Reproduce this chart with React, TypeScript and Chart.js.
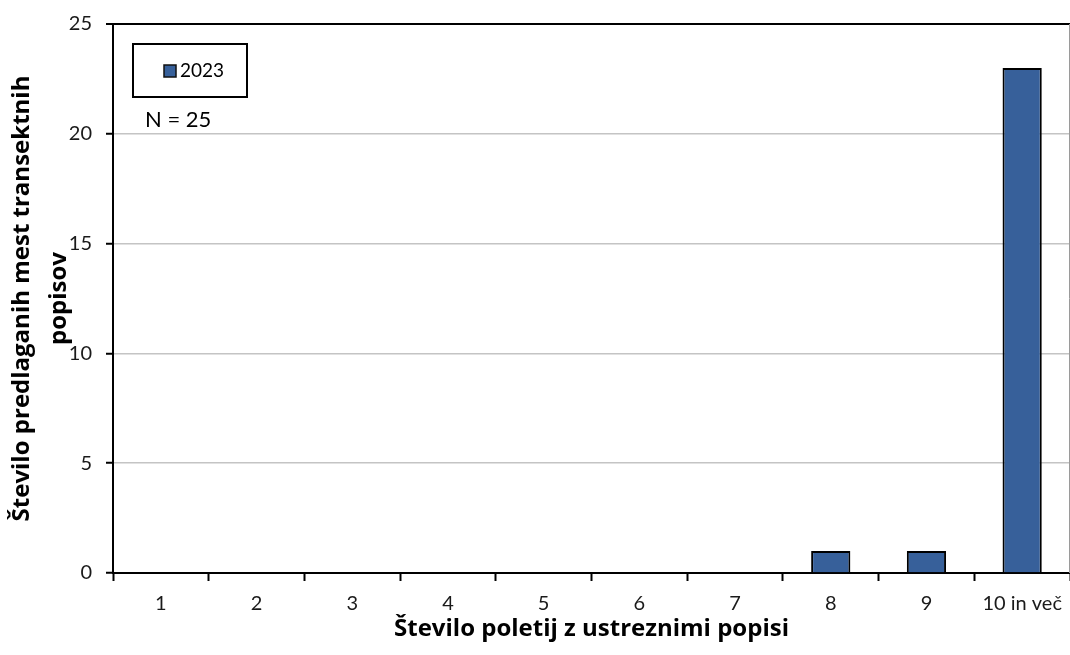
import React, { useEffect, useRef } from "react";
import { Chart, registerables } from "chart.js";

Chart.register(...registerables);

// Categories: number of seasons with suitable surveys
const categories = ["1", "2", "3", "4", "5", "6", "7", "8", "9", "10 in več"];
// Number of proposed transect survey sites per category (2023)
const sites2023 = [0, 0, 0, 0, 0, 0, 0, 1, 1, 23];
const seriesLabel = "2023";
const sampleSize = 25;
const yTicks = [0, 5, 10, 15, 20, 25];

const FONT = "Lato, 'Open Sans', sans-serif";
const TITLE_FONT = "'Open Sans', Lato, sans-serif";
const BAR_COLOR = "#37609A";

const legendBoxPlugin = {
  id: "legendBox",
  afterDraw(chart: any) {
    const ctx = chart.ctx;
    const ds = chart.data.datasets[0];
    ctx.save();
    // legend frame
    ctx.strokeStyle = "#000";
    ctx.lineWidth = 2;
    ctx.strokeRect(133, 44, 114, 53);
    // legend swatch
    ctx.fillStyle = ds.backgroundColor;
    ctx.fillRect(164, 65, 12, 12);
    ctx.strokeStyle = "#111";
    ctx.lineWidth = 1.5;
    ctx.strokeRect(164, 65, 12, 12);
    ctx.fillStyle = "#000";
    ctx.font = `19px ${FONT}`;
    ctx.textAlign = "left";
    ctx.textBaseline = "middle";
    ctx.fillText(ds.label, 180, 71);
    // sample size note
    ctx.font = `22px ${FONT}`;
    ctx.fillText(`N = ${sampleSize}`, 145, 120);
    // right frame edge
    const area = chart.chartArea;
    ctx.strokeStyle = "#9a9a9a";
    ctx.lineWidth = 1;
    ctx.beginPath();
    ctx.moveTo(area.right - 0.5, area.top);
    ctx.lineTo(area.right - 0.5, area.bottom);
    ctx.stroke();
    ctx.restore();
  },
};

export default function App() {
  const canvasRef = useRef<HTMLCanvasElement | null>(null);

  useEffect(() => {
    if (!canvasRef.current) return;
    const chart = new Chart(canvasRef.current, {
      type: "bar",
      data: {
        labels: categories,
        datasets: [
          {
            label: seriesLabel,
            data: sites2023,
            backgroundColor: BAR_COLOR,
            borderColor: "#000",
            borderWidth: 2,
            borderSkipped: "bottom",
            barPercentage: 0.41,
            categoryPercentage: 1,
          },
        ],
      },
      options: {
        animation: false,
        responsive: true,
        maintainAspectRatio: false,
        layout: { padding: { top: 24, right: 0, bottom: 0, left: 0 } },
        plugins: {
          legend: { display: false },
          tooltip: { enabled: false },
        },
        scales: {
          x: {
            offset: true,
            grid: {
              offset: true,
              drawOnChartArea: false,
              tickLength: 8,
              tickColor: "#000",
              tickWidth: 2,
            },
            border: { color: "#000", width: 2 },
            ticks: {
              color: "#1a1a1a",
              font: { family: FONT, size: 20 },
              padding: 11,
            },
            title: {
              display: true,
              text: "Število poletij z ustreznimi popisi",
              color: "#000",
              font: { family: TITLE_FONT, size: 24, weight: "bold", lineHeight: 1.2 },
              padding: { top: 0, bottom: 11 },
            },
            afterFit(scale: any) {
              scale.height = 82;
              scale.paddingLeft = 0;
              scale.paddingRight = 0;
            },
          },
          y: {
            min: 0,
            max: 25,
            afterBuildTicks(scale: any) {
              scale.ticks = yTicks.map((v) => ({ value: v }));
            },
            grid: {
              color: (c: any) =>
                c.tick && (c.tick.value === 25 || c.tick.value === 0) ? "#000" : "#c4c4c4",
              lineWidth: (c: any) => (c.tick && c.tick.value === 25 ? 2 : 1.5),
              tickColor: "#000",
              tickWidth: 2,
              tickLength: 7,
            },
            border: { color: "#000", width: 2 },
            ticks: {
              color: "#1a1a1a",
              font: { family: FONT, size: 20 },
              padding: 14,
            },
            title: {
              display: true,
              text: ["Število predlaganih mest transektnih", "popisov"],
              color: "#000",
              font: { family: TITLE_FONT, size: 24, weight: "bold", lineHeight: 1.54 },
              padding: { top: 4, bottom: 0 },
            },
            afterFit(scale: any) {
              scale.width = 113;
              scale.paddingTop = 0;
              scale.paddingBottom = 0;
            },
          },
        },
      },
      plugins: [legendBoxPlugin],
    });
    return () => chart.destroy();
  }, []);

  return (
    <div style={{ position: "absolute", left: 0, top: 0, width: 1070, height: 655, background: "#fff" }}>
      <canvas ref={canvasRef} />
    </div>
  );
}
